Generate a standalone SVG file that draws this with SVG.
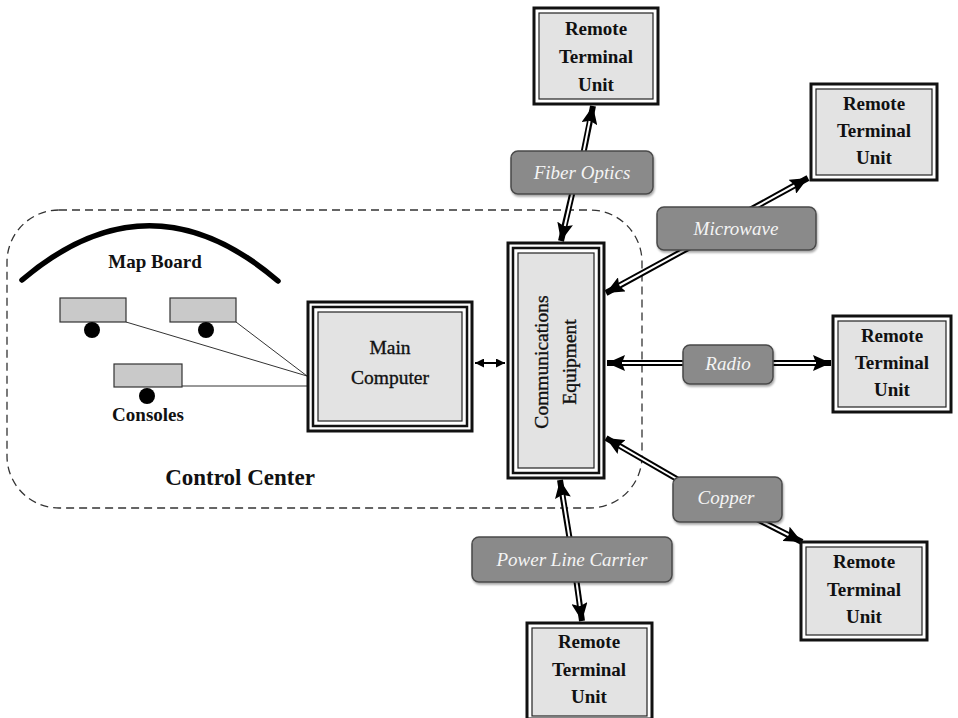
<svg xmlns="http://www.w3.org/2000/svg" width="958" height="718" viewBox="0 0 958 718">
<defs>
<marker id="ah" markerUnits="userSpaceOnUse" markerWidth="18" markerHeight="16" refX="18" refY="8" orient="auto">
<path d="M0,0 L18,8 L0,16 L3,8 z" fill="#000"/>
</marker>
<marker id="ahs" markerUnits="userSpaceOnUse" markerWidth="9" markerHeight="9" refX="9" refY="4.5" orient="auto-start-reverse">
<path d="M0,0 L9,4.5 L0,9 z" fill="#000"/>
</marker>
<filter id="sh" x="-10%" y="-10%" width="130%" height="140%">
<feGaussianBlur in="SourceAlpha" stdDeviation="1"/>
<feOffset dx="1" dy="1.5"/>
<feComponentTransfer><feFuncA type="linear" slope="0.35"/></feComponentTransfer>
<feMerge><feMergeNode/><feMergeNode in="SourceGraphic"/></feMerge>
</filter>
</defs>
<style>
.t{font-family:"Liberation Serif","Times New Roman",serif;fill:#111;text-anchor:middle}
.b{font-weight:bold;font-size:19px}
.n{font-size:19.5px;stroke:#111;stroke-width:0.35}
.p{font-family:"Liberation Serif","Times New Roman",serif;font-style:italic;font-size:19px;fill:#f4f4f4;text-anchor:middle}
.pill{fill:#8a8a8a;stroke:#4a4a4a;stroke-width:1.5}
.ob{fill:#fff;stroke:#111;stroke-width:3}
.ib{fill:#e3e3e3;stroke:#222;stroke-width:1.2}
.mid{fill:#fff;stroke:#111;stroke-width:2.5}
.bl{stroke:#000;stroke-width:6;fill:none;marker-end:url(#ah)}
.wl{stroke:#fff;stroke-width:2;fill:none}
.con{fill:#c9c9c9;stroke:#333;stroke-width:1.2}
.cl{stroke:#333;stroke-width:1;fill:none}
</style>
<rect width="958" height="718" fill="#fff"/>

<g id="control-center">
<rect x="7" y="210" width="635" height="298" rx="52" ry="52" fill="none" stroke="#333" stroke-width="1.3" stroke-dasharray="8,5"/>
<path d="M22,280 Q150,171 278,281" fill="none" stroke="#000" stroke-width="5.5" stroke-linecap="round"/>
<text class="t b" x="155" y="268">Map Board</text>
<line class="cl" x1="126" y1="322" x2="307" y2="376"/>
<line class="cl" x1="236" y1="322" x2="307" y2="376"/>
<line class="cl" x1="182" y1="386" x2="307" y2="386"/>
<rect class="con" x="60" y="298" width="66" height="24"/>
<rect class="con" x="170" y="298" width="66" height="24"/>
<rect class="con" x="114" y="364" width="68" height="23"/>
<circle cx="92" cy="330" r="8" fill="#000"/>
<circle cx="206" cy="330" r="8" fill="#000"/>
<circle cx="147" cy="396" r="8" fill="#000"/>
<text class="t b" x="148" y="421">Consoles</text>
<text class="t" x="240" y="485" font-weight="bold" font-size="23">Control Center</text>
</g>

<g id="connectors">
<line class="bl" x1="583" y1="155" x2="593" y2="106"/><line class="wl" x1="583" y1="155" x2="589.6" y2="121"/>
<line class="bl" x1="573" y1="190" x2="561" y2="241"/><line class="wl" x1="573" y1="190" x2="564.8" y2="226"/>
<line class="bl" x1="750" y1="210" x2="808" y2="178"/><line class="wl" x1="750" y1="210" x2="794.5" y2="185.5"/>
<line class="bl" x1="690" y1="247" x2="606" y2="293"/><line class="wl" x1="690" y1="247" x2="619.5" y2="285.5"/>
<line class="bl" x1="690" y1="363" x2="607" y2="363"/><line class="wl" x1="690" y1="363" x2="622" y2="363"/>
<line class="bl" x1="768" y1="363" x2="831" y2="363"/><line class="wl" x1="768" y1="363" x2="816" y2="363"/>
<line class="bl" x1="682" y1="482" x2="606" y2="438"/><line class="wl" x1="682" y1="482" x2="619.5" y2="445.8"/>
<line class="bl" x1="755" y1="518" x2="802" y2="542"/><line class="wl" x1="755" y1="518" x2="788.5" y2="535"/>
<line class="bl" x1="570" y1="541" x2="560" y2="480"/><line class="wl" x1="570" y1="541" x2="562.6" y2="495"/>
<line class="bl" x1="576" y1="578" x2="582" y2="621"/><line class="wl" x1="576" y1="578" x2="579.8" y2="606"/>
<line x1="475" y1="363" x2="505" y2="363" stroke="#000" stroke-width="2" marker-start="url(#ahs)" marker-end="url(#ahs)"/>
</g>

<g id="main-computer">
<rect class="ob" x="308" y="302" width="164" height="129"/>
<rect class="mid" x="313" y="307" width="154" height="119"/>
<rect class="ib" x="318" y="312" width="144" height="109"/>
<text class="t n" x="390" y="354">Main</text>
<text class="t n" x="390" y="384">Computer</text>
</g>

<g id="communications-equipment">
<rect class="ob" x="508" y="243" width="96" height="235"/>
<rect class="mid" x="513" y="248" width="86" height="225"/>
<rect class="ib" x="518" y="253" width="76" height="215"/>
<text class="t n" transform="translate(548,362) rotate(-90)">Communications</text>
<text class="t n" transform="translate(576,362) rotate(-90)">Equipment</text>
</g>

<g id="rtu-top">
<rect class="ob" x="534" y="8" width="124" height="96"/>
<rect class="ib" x="539" y="13" width="114" height="86"/>
<text class="t b" x="596" y="35">Remote</text>
<text class="t b" x="596" y="63">Terminal</text>
<text class="t b" x="596" y="91">Unit</text>
</g>
<g id="rtu-upper-right">
<rect class="ob" x="811" y="84" width="126" height="96"/>
<rect class="ib" x="816" y="89" width="116" height="86"/>
<text class="t b" x="874" y="110">Remote</text>
<text class="t b" x="874" y="137">Terminal</text>
<text class="t b" x="874" y="164">Unit</text>
</g>
<g id="rtu-right">
<rect class="ob" x="833" y="316" width="118" height="96"/>
<rect class="ib" x="838" y="321" width="108" height="86"/>
<text class="t b" x="892" y="342">Remote</text>
<text class="t b" x="892" y="369">Terminal</text>
<text class="t b" x="892" y="396">Unit</text>
</g>
<g id="rtu-lower-right">
<rect class="ob" x="801" y="542" width="126" height="98"/>
<rect class="ib" x="806" y="547" width="116" height="88"/>
<text class="t b" x="864" y="568">Remote</text>
<text class="t b" x="864" y="596">Terminal</text>
<text class="t b" x="864" y="623">Unit</text>
</g>
<g id="rtu-bottom">
<rect class="ob" x="527" y="623" width="125" height="96"/>
<rect class="ib" x="532" y="628" width="115" height="88"/>
<text class="t b" x="589" y="648">Remote</text>
<text class="t b" x="589" y="676">Terminal</text>
<text class="t b" x="589" y="703">Unit</text>
</g>

<g id="fiber-optics">
<rect class="pill" x="511" y="151" width="142" height="43" rx="7" filter="url(#sh)"/>
<text class="p" x="582" y="179">Fiber Optics</text>
</g>
<g id="microwave">
<rect class="pill" x="657" y="207" width="159" height="43" rx="7" filter="url(#sh)"/>
<text class="p" x="736" y="235">Microwave</text>
</g>
<g id="radio">
<rect class="pill" x="683" y="345" width="90" height="39" rx="7" filter="url(#sh)"/>
<text class="p" x="728" y="370">Radio</text>
</g>
<g id="copper">
<rect class="pill" x="673" y="477" width="109" height="45" rx="7" filter="url(#sh)"/>
<text class="p" x="726" y="504">Copper</text>
</g>
<g id="power-line-carrier">
<rect class="pill" x="472" y="537" width="200" height="45" rx="7" filter="url(#sh)"/>
<text class="p" x="572" y="566">Power Line Carrier</text>
</g>
</svg>
